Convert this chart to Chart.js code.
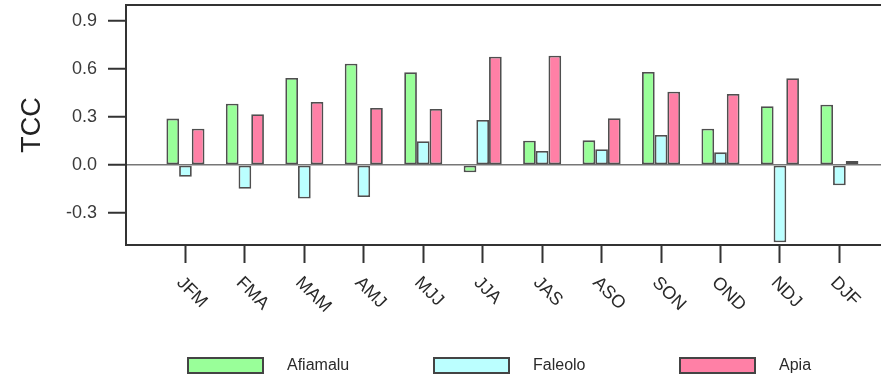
<!DOCTYPE html>
<html>
<head>
<meta charset="utf-8">
<title>TCC by season</title>
<script src="https://cdn.jsdelivr.net/npm/chart.js@4/dist/chart.umd.min.js"></script>
<style>
  html, body { margin: 0; padding: 0; background: #fff; overflow: hidden; }
  #wrap { width: 881px; height: 375px; }
</style>
</head>
<body>
<div id="wrap"><canvas id="tcc" width="881" height="375"></canvas></div>
<script>
// Datos
const seasons = ['JFM', 'FMA', 'MAM', 'AMJ', 'MJJ', 'JJA', 'JAS', 'ASO', 'SON', 'OND', 'NDJ', 'DJF'];
const afiamalu = [0.29, 0.383, 0.544, 0.633, 0.579, -0.046, 0.152, 0.154, 0.581, 0.227, 0.367, 0.377];
const faleolo = [-0.073, -0.148, -0.21, -0.2, 0.148, 0.281, 0.088, 0.098, 0.188, 0.079, -0.483, -0.127];
const apia = [0.227, 0.317, 0.394, 0.356, 0.35, 0.677, 0.683, 0.292, 0.458, 0.444, 0.542, 0.025];
const yTicks = [-0.3, 0.0, 0.3, 0.6, 0.9];

const seriesNames = ['Afiamalu', 'Faleolo', 'Apia'];
const seriesColors = ['#99ff99', '#bbffff', '#ff80a6'];
const seriesValues = [afiamalu, faleolo, apia];

const FONT = '"Liberation Sans", Arial, Helvetica, sans-serif';

// marco superior, etiquetas giradas del eje x y leyenda
const extras = {
  id: 'extras',
  afterDraw(chart) {
    const { ctx, chartArea, scales } = chart;
    ctx.save();
    ctx.strokeStyle = '#333';
    ctx.lineWidth = 2;
    ctx.beginPath();
    ctx.moveTo(chartArea.left, chartArea.top);
    ctx.lineTo(chartArea.right, chartArea.top);
    ctx.stroke();

    ctx.fillStyle = '#2a2a2a';
    ctx.font = '18px ' + FONT;
    ctx.textAlign = 'left';
    ctx.textBaseline = 'middle';
    seasons.forEach((s, i) => {
      const x = scales.x.getPixelForValue(i + 1);
      ctx.save();
      ctx.translate(x - 6, chartArea.bottom + 35);
      ctx.rotate(Math.PI / 4);
      ctx.fillText(s, 0, 0);
      ctx.restore();
    });

    ctx.font = '16px ' + FONT;
    chart.data.datasets.forEach((ds, i) => {
      const bx = 188 + i * 246;
      ctx.fillStyle = ds.backgroundColor;
      ctx.fillRect(bx, 358, 75, 15);
      ctx.strokeStyle = '#444';
      ctx.lineWidth = 2;
      ctx.strokeRect(bx, 358, 75, 15);
      ctx.fillStyle = '#2a2a2a';
      ctx.fillText(ds.label, bx + 99, 366);
    });
    ctx.restore();
  }
};

new Chart(document.getElementById('tcc'), {
  type: 'bar',
  data: {
    datasets: seriesNames.map((name, k) => ({
      label: name,
      data: seriesValues[k].map((v, i) => ({ x: i + 1, y: v })),
      backgroundColor: seriesColors[k],
      borderColor: 'rgba(60,60,60,0.9)',
      borderWidth: 1.8,
      borderSkipped: false,
      categoryPercentage: 0.64,
      barPercentage: 1
    }))
  },
  options: {
    responsive: false,
    devicePixelRatio: 1,
    animation: false,
    layout: { padding: { top: 5, left: 0, right: 0, bottom: 0 } },
    plugins: { legend: { display: false }, tooltip: { enabled: false } },
    scales: {
      x: {
        type: 'linear',
        min: 0,
        max: 12.7,
        offset: false,
        afterBuildTicks: (scale) => { scale.ticks = seasons.map((s, i) => ({ value: i + 1 })); },
        afterFit: (scale) => {
          scale.height = 130;
          scale.paddingLeft = 0;
          scale.paddingRight = 0;
        },
        ticks: { display: false },
        grid: {
          offset: false,
          drawOnChartArea: false,
          drawTicks: true,
          tickLength: 18,
          tickWidth: 2,
          tickColor: '#333'
        },
        border: { display: true, color: '#333', width: 2 }
      },
      y: {
        min: -0.5,
        max: 1.0,
        afterBuildTicks: (scale) => { scale.ticks = yTicks.map(v => ({ value: v })); },
        afterFit: (scale) => {
          scale.width = 126;
          scale.paddingTop = 0;
          scale.paddingBottom = 0;
        },
        ticks: {
          padding: 11,
          color: '#3a3a3a',
          font: { family: FONT, size: 18 },
          callback: (v) => Number(v).toFixed(1)
        },
        grid: {
          drawOnChartArea: true,
          color: (c) => (c.tick && c.tick.value === 0 ? '#777' : 'rgba(0,0,0,0)'),
          lineWidth: 1.5,
          tickLength: 18,
          tickWidth: 2,
          tickColor: '#333'
        },
        border: { display: true, color: '#333', width: 2 },
        title: {
          display: true,
          text: 'TCC',
          color: '#222',
          font: { family: FONT, size: 27 },
          padding: { top: 16, bottom: 0 }
        }
      }
    }
  },
  plugins: [extras]
});
</script>
</body>
</html>
